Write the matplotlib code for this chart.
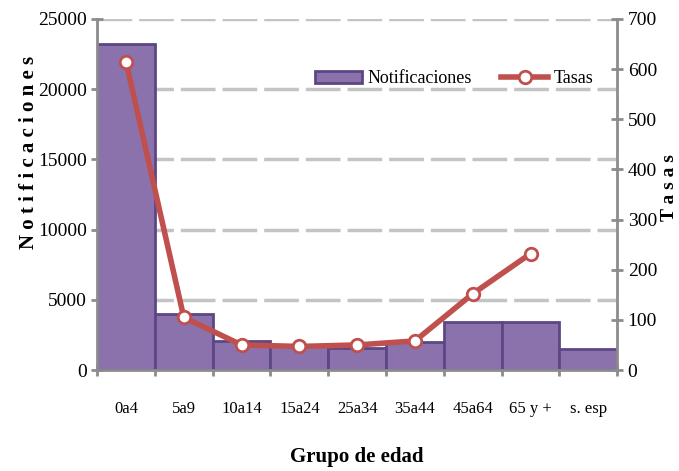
import numpy as np
import matplotlib.pyplot as plt

grupos = ['0a4', '5a9', '10a14', '15a24', '25a34', '35a44', '45a64', '65 y +', 's. esp']
notificaciones = [23200, 4000, 2050, 1750, 1600, 2000, 3450, 3450, 1500]
tasas = [615, 105, 50, 47, 50, 58, 152, 232]

bar_color = '#8B72AC'
bar_edge = '#5C4785'
line_color = '#C0504D'
axis_color = '#8C8C8C'

plt.rcParams['font.family'] = ['Liberation Serif', 'DejaVu Serif']

fig = plt.figure(figsize=(6.79, 4.71), dpi=100)
ax = fig.add_axes([0.143, 0.2144, 0.766, 0.7453])
ax2 = ax.twinx()

x = np.arange(len(grupos))
ax.bar(x, notificaciones, width=1.0, color=bar_color, edgecolor=bar_edge,
       linewidth=2, zorder=2, label='Notificaciones')
ax.set_xlim(-0.5, len(grupos) - 0.5)
ax.set_ylim(0, 25000)
ax.set_yticks(np.arange(0, 25001, 5000))
ax.yaxis.grid(True, color='#C4C4C4', linewidth=2.5, linestyle=(0, (10, 2)), zorder=0)
ax.set_axisbelow(True)

ax2.plot(x[:len(tasas)], tasas, color=line_color, linewidth=4, marker='o',
         markersize=9, markerfacecolor='white', markeredgecolor=line_color,
         markeredgewidth=2, label='Tasas', zorder=3)
ax2.set_ylim(0, 700)
ax2.set_yticks(np.arange(0, 701, 100))

ax.set_xticks(np.arange(len(grupos) + 1) - 0.5, minor=False)
ax.set_xticklabels([])
ax.set_xticks(x, minor=True)
ax.set_xticklabels(grupos, minor=True, fontsize=12)
ax.tick_params(axis='x', which='minor', length=0, pad=22)
ax.tick_params(axis='x', which='major', length=8, width=2, color=axis_color, direction='inout')
ax.tick_params(axis='y', length=8, width=2, color=axis_color, direction='inout', labelsize=14)
ax2.tick_params(axis='y', length=8, width=2, color=axis_color, direction='inout', labelsize=14)

for a in (ax, ax2):
    a.spines['top'].set_visible(False)
    for side in ('left', 'right', 'bottom'):
        a.spines[side].set_color(axis_color)
        a.spines[side].set_linewidth(2)
ax.spines['right'].set_visible(False)
ax2.spines['left'].set_visible(False)
ax2.spines['bottom'].set_visible(False)

ax.set_ylabel('N o t i f i c a c i o n e s', fontsize=15, fontweight='bold')
ax.yaxis.set_label_coords(-0.112, 0.62)
ax2.set_ylabel('T a s a s', fontsize=14, fontweight='bold', rotation=90)
ax2.yaxis.set_label_coords(1.084, 0.52)
ax.set_xlabel('Grupo de edad', fontsize=15, fontweight='bold', labelpad=22)

h1, l1 = ax.get_legend_handles_labels()
h2, l2 = ax2.get_legend_handles_labels()
ax2.legend(h1 + h2, l1 + l2, loc='upper right', bbox_to_anchor=(0.985, 0.9), ncol=2,
           frameon=False, fontsize=13, handlelength=2.6, handletextpad=0.3,
           columnspacing=1.6)

fig.savefig('out.png', dpi=100)
